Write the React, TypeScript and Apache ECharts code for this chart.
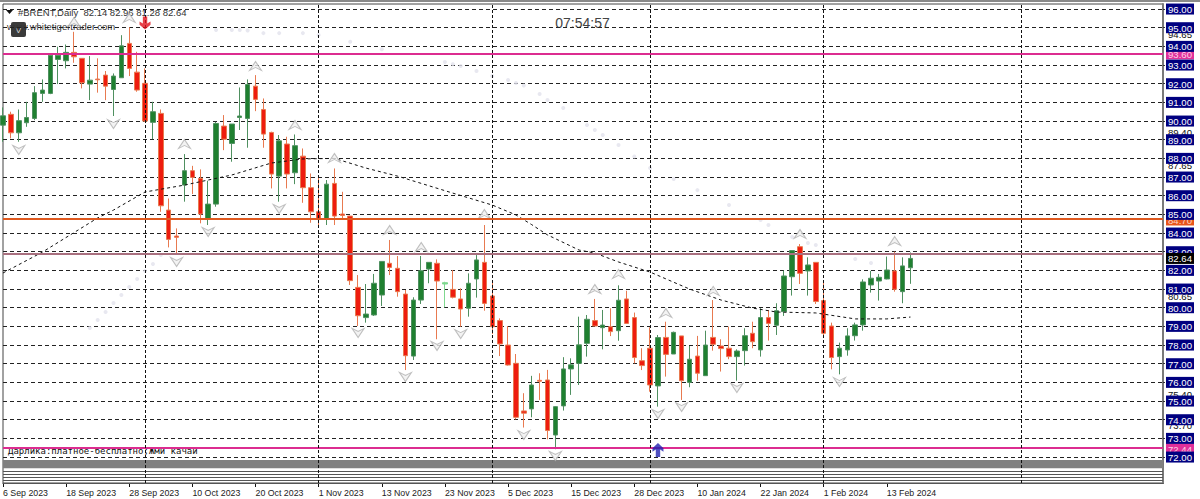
import React, { useEffect, useRef } from "react";
import * as echarts from "echarts";

const tickLabels = ["6 Sep 2023","18 Sep 2023","28 Sep 2023","10 Oct 2023","20 Oct 2023","1 Nov 2023","13 Nov 2023","23 Nov 2023","5 Dec 2023","15 Dec 2023","28 Dec 2023","10 Jan 2024","22 Jan 2024","1 Feb 2024","13 Feb 2024"];
const slotCount = 148;
const tickStep = 8;

const opens = [89.78,90.36,89.37,89.91,90.14,91.48,91.48,93.30,93.23,93.68,93.36,91.98,92.25,92.46,91.69,92.32,94.16,92.62,92.02,89.93,
90.41,85.23,83.84,86.57,87.34,86.93,84.78,85.55,89.73,88.80,90.19,90.14,91.87,90.62,89.39,87.05,88.77,87.23,88.12,86.43,
85.14,84.78,86.66,85.02,84.91,81.09,79.47,79.61,80.68,82.38,82.11,80.73,77.41,80.41,82.07,82.38,81.27,80.98,80.47,79.97,
81.54,82.43,80.63,79.31,78.00,77.02,74.47,74.58,76.11,76.13,73.18,74.74,76.72,77.02,78.09,79.31,78.93,78.98,78.77,80.47,
79.47,77.16,77.83,75.81,78.41,77.52,78.49,76.00,77.41,76.36,78.41,77.95,77.83,77.38,77.70,78.63,77.74,79.47,79.06,79.79,
81.66,83.27,81.97,82.43,80.38,79.02,77.38,77.74,78.50,79.08,81.22,81.43,81.54,81.97,80.86,82.14];
const closes = [90.28,89.37,90.02,90.19,91.52,91.66,93.53,93.53,93.68,93.44,92.05,92.19,92.21,91.87,92.41,94.03,92.82,91.66,90.00,90.50,
85.46,83.66,83.77,87.34,86.98,85.02,85.55,89.87,89.03,89.84,90.27,91.96,91.16,89.30,87.16,88.94,87.16,88.68,86.43,85.14,
84.78,86.62,84.91,84.94,81.45,79.57,79.66,81.31,82.48,82.16,80.86,77.43,80.41,81.98,82.43,81.43,81.34,80.56,79.93,81.31,
82.56,80.23,78.98,78.06,76.93,74.13,74.35,75.86,76.06,73.42,74.70,76.72,76.94,78.01,79.38,79.02,79.07,78.72,80.40,79.16,
77.33,76.90,75.86,78.40,77.50,78.68,76.09,77.24,76.49,78.00,78.04,77.81,77.38,77.68,78.50,78.18,79.47,79.16,79.84,81.70,
83.06,81.84,82.29,80.33,78.63,77.33,77.83,78.49,79.08,81.38,81.58,81.63,82.02,80.99,82.24,82.64];
const lows = [88.89,89.07,88.89,89.69,90.05,91.03,91.44,91.98,92.82,93.12,91.75,91.12,91.52,91.12,90.27,92.32,92.41,91.57,89.96,89.03,
85.14,83.23,82.91,85.68,86.09,84.52,84.43,85.41,88.44,87.82,89.52,88.57,90.53,88.57,86.39,85.68,86.39,86.62,85.62,84.55,
84.34,84.43,84.43,84.78,81.22,79.02,79.20,79.56,80.09,81.75,80.59,76.66,77.20,80.20,81.31,78.31,80.02,80.50,78.98,79.52,
80.54,79.84,78.59,77.41,76.90,74.02,73.58,74.13,75.06,72.95,72.42,74.49,75.33,75.86,77.38,79.02,77.77,78.48,78.23,79.16,
77.02,76.66,75.50,74.70,76.31,77.52,75.06,75.74,76.09,76.36,77.70,76.58,77.24,76.09,76.90,77.83,77.38,78.24,78.54,79.56,
80.65,81.27,80.65,80.20,78.41,76.70,76.43,77.43,78.24,78.77,80.81,80.38,81.52,80.86,80.24,81.28];
const highs = [90.73,90.50,90.62,91.03,91.87,92.23,93.62,93.98,94.10,94.78,93.36,93.48,93.36,92.68,92.55,94.60,95.02,93.71,92.82,91.03,
90.62,85.85,84.25,88.23,87.60,87.41,86.80,89.96,90.32,89.84,91.80,92.23,92.46,91.21,89.43,89.25,89.16,89.28,88.53,87.19,
87.02,86.84,87.46,86.21,84.93,81.75,81.27,81.81,82.48,83.63,82.77,80.95,80.56,82.77,82.43,82.59,81.39,82.02,81.04,81.84,
82.82,84.43,81.34,79.43,79.02,77.52,75.42,76.35,76.49,76.67,74.72,77.35,77.29,79.52,79.61,80.47,79.88,79.97,81.20,80.91,
79.74,77.83,78.95,78.54,79.25,78.72,78.49,77.95,78.49,78.77,80.41,78.31,78.99,77.77,78.90,79.25,79.97,79.88,80.24,81.99,
83.06,83.41,82.70,82.43,81.36,79.20,78.13,78.90,79.20,81.52,81.97,81.81,82.74,83.00,82.70,82.96];
const paleBar = 56;

const maBars = [0,5,12,14,18,23,29,34,38,42,46,50,57,62,65,67,69,73,75,78,82,87,91,95,98,103,108,112,115];
const maValues = [81.86,82.98,84.81,85.23,86.20,86.57,87.11,87.75,87.97,88.00,87.48,87.05,86.14,85.50,84.97,84.45,83.90,83.09,82.93,82.45,81.91,81.00,80.41,79.98,79.77,79.72,79.40,79.40,79.50];

const dotBars = [11,12,13,14,15,16,17,18,19,20,27,29,30,31,33,35,38,40,44,48,56,57,58,60,62,64,65,66,68,69,71,74,75,76,78,80,82,85,88,92,96,97,100,102,103,106,108,110];
const dotValues = [78.91,79.34,79.77,80.25,80.68,81.11,81.54,81.97,82.34,82.82,94.88,94.88,94.88,94.85,94.71,94.71,94.71,94.61,94.25,93.85,93.16,93.05,92.95,92.68,92.41,92.20,92.04,91.90,91.45,91.13,90.70,89.79,89.52,89.25,88.72,88.10,87.48,86.90,86.30,85.50,84.70,84.43,83.79,83.47,83.36,82.93,82.61,82.40];

const upFractalBars = [9,16,23,32,37,42,49,53,61,75,78,84,90,101,113];
const upFractalValues = [95.30,95.52,88.77,92.95,89.79,88.02,84.16,83.25,85.02,81.00,81.81,79.72,80.90,83.95,83.57];
const downFractalBars = [2,14,22,26,35,45,51,55,58,66,70,83,86,93,106];
const downFractalValues = [88.45,89.84,82.45,84.06,85.29,78.65,76.29,77.95,78.59,73.18,72.06,74.31,74.68,75.70,76.02];

const sellArrow = [18, 95.25];
const buyArrow = [83, 72.38];

const gridLevels = [72,73,74,75,76,77,78,79,80,81,82,83,84,85,86,87,88,89,90,91,92,93,94,95,96];
const plainLabels = [94.65,89.40,87.65,80.65,75.40,73.70];
const magentaLabels = [93.60,72.44];
const orangeLabels = [84.70];
const closeLabels = [82.64];

const magentaLevels = [93.60,72.52];
const orangeLevel = 84.75;
const mauveLevel = 82.91;
const stripeLevels = [71.25,71.09,70.93,70.77,70.61];
const bandRange = [71.40,71.84];
const separatorBars = [18,40,62,82,104,129];

const titleText = "#BRENT,Daily  82.14 82.96 81.28 82.64";
const siteText = "www.whitetigertrader.com";
const clockText = "07:54:57";
const noteText = "Дарлика:платное-бесплатно;Жми качай";

const categories = Array.from({ length: slotCount }, (_, i) => (i % tickStep === 0 && tickLabels[i / tickStep]) || String(i));

const upPath = "path://M6 0L12 9L6 6L0 9Z";
const downPath = "path://M0 0L6 3L12 0L6 9Z";
const sellPath = "path://M3 0H7V6.5L10 4.5V7.5L5 12L0 7.5V4.5L3 6.5Z";
const buyPath = "path://M5 0L10 4.5V7.5L7 5.5V12H3V5.5L0 7.5V4.5Z";

const font = "Liberation Sans";
const pair = (xs: number[], ys: number[]) => xs.map((x, i) => [x, ys[i]]);
const GREEN = "#1f8030";
const RED = "#ee1c0e";

export default function App() {
  const ref = useRef<HTMLDivElement>(null);
  useEffect(() => {
    document.body.style.margin = "0";
    document.body.style.background = "#fff";
    const chart = echarts.init(ref.current!, undefined, { renderer: "svg" });
    const candleData = opens.map((o, i) => {
      const value = [o, closes[i], lows[i], highs[i]];
      return i === paleBar
        ? { value, itemStyle: { color: "#7fd88f", borderColor: "#7fd88f", color0: "#7fd88f", borderColor0: "#7fd88f" } }
        : value;
    });
    const labelValues = [...plainLabels, ...magentaLabels, ...orangeLabels, ...gridLevels, ...closeLabels];
    const box = { padding: [1, 2, 0, 2], fontSize: 9.6, fontFamily: font, lineHeight: 10 };
    chart.setOption({
      animation: false,
      backgroundColor: "#fff",
      grid: { left: 3, right: 37, top: 4, bottom: 16, show: true, borderColor: "#444", borderWidth: 1, containLabel: false },
      xAxis: {
        type: "category",
        data: categories,
        boundaryGap: false,
        axisLine: { show: true, lineStyle: { color: "#111", width: 1 } },
        axisTick: { show: true, length: 4, lineStyle: { color: "#111" }, interval: (i: number) => i % tickStep === 0 && i / tickStep < tickLabels.length },
        axisLabel: {
          show: true,
          interval: (i: number) => i % tickStep === 0 && i / tickStep < tickLabels.length,
          align: "left",
          margin: 5,
          fontFamily: font,
          fontSize: 8.8,
          color: "#222",
          hideOverlap: false,
          showMinLabel: true,
        },
        splitLine: { show: false },
      },
      yAxis: {
        type: "value",
        position: "right",
        min: 70.61,
        max: 96.27,
        scale: true,
        axisLine: { show: true, onZero: false, lineStyle: { color: "#7a7a7a", width: 2 } },
        axisTick: { show: true, length: 2, lineStyle: { color: "#333" }, customValues: gridLevels },
        splitLine: { show: true, lineStyle: { color: "#222", width: 1, type: [4, 3] } },
        axisLabel: {
          show: true,
          customValues: labelValues,
          margin: 3,
          formatter: (v: number) => {
            const t = v.toFixed(2);
            if (plainLabels.includes(v)) return `{p|${t}}`;
            if (magentaLabels.includes(v)) return `{m|${t}}`;
            if (orangeLabels.includes(v)) return `{o|${t}}`;
            if (closeLabels.includes(v)) return `{k|${t}}`;
            return `{n|${t}}`;
          },
          rich: {
            n: { ...box, color: "#fff", backgroundColor: "#000080" },
            p: { ...box, color: "#111", backgroundColor: "#fff" },
            m: { ...box, color: "#ffd0e8", backgroundColor: "#e0309a" },
            o: { ...box, color: "#ffd8c8", backgroundColor: "#e8541a" },
            k: { ...box, color: "#fff", backgroundColor: "#000" },
          },
        },
      },
      series: [
        {
          type: "candlestick",
          data: candleData,
          barWidth: 5,
          clip: true,
          itemStyle: { color: GREEN, color0: RED, borderColor: "#4f9060", borderColor0: "#e87a50", borderWidth: 1 },
          markArea: {
            silent: true,
            itemStyle: { color: "#808080" },
            data: [[{ yAxis: bandRange[0] }, { yAxis: bandRange[1] }]],
          },
          markLine: {
            silent: true,
            symbol: "none",
            label: { show: false },
            animation: false,
            data: [
              ...magentaLevels.map((v) => ({ yAxis: v, lineStyle: { color: "#dc2c90", width: 2, type: "solid" } })),
              { yAxis: orangeLevel, lineStyle: { color: "#e05a20", width: 2, type: "solid" } },
              { yAxis: mauveLevel, lineStyle: { color: "#a9707f", width: 2, type: "solid" } },
              ...stripeLevels.map((v) => ({ yAxis: v, lineStyle: { color: "#555", width: 1, type: "solid" } })),
              ...separatorBars.map((b) => ({ xAxis: b, lineStyle: { color: "#111", width: 1, type: [3, 2] } })),
            ],
          },
        },
        {
          type: "line",
          data: pair(maBars, maValues),
          showSymbol: false,
          symbol: "none",
          lineStyle: { color: "#111", width: 1, type: [3, 3] },
          z: 3,
        },
        {
          type: "scatter",
          data: pair(dotBars, dotValues),
          symbol: "circle",
          symbolSize: 4,
          itemStyle: { color: "#e2e2ec" },
          z: 3,
        },
        {
          type: "scatter",
          data: pair(upFractalBars, upFractalValues),
          symbol: upPath,
          symbolSize: [12, 9],
          itemStyle: { color: "#f0f0f0", borderColor: "#b0b0b0", borderWidth: 1 },
          z: 4,
        },
        {
          type: "scatter",
          data: pair(downFractalBars, downFractalValues),
          symbol: downPath,
          symbolSize: [12, 9],
          itemStyle: { color: "#f0f0f0", borderColor: "#b0b0b0", borderWidth: 1 },
          z: 4,
        },
        { type: "scatter", data: [sellArrow], symbol: sellPath, symbolSize: [11, 13], itemStyle: { color: "#e0101a" }, z: 5 },
        { type: "scatter", data: [buyArrow], symbol: buyPath, symbolSize: [11, 14], itemStyle: { color: "#2020b0" }, z: 5 },
      ],
      graphic: [
        { type: "rect", shape: { x: 0, y: 0, width: 1200, height: 2 }, style: { fill: "#8a8a8a" } },
        { type: "polygon", shape: { points: [[6, 10], [13, 10], [9.5, 14]] }, style: { fill: "#111" } },
        { type: "text", x: 18, y: 12, style: { text: titleText, font: `9.5px "${font}"`, fill: "#333", textVerticalAlign: "middle" } },
        { type: "rect", shape: { x: 11, y: 22, width: 15, height: 15, r: 2 }, style: { fill: "#3a3a3a" } },
        { type: "text", x: 18.5, y: 30, style: { text: "V", font: `8px "${font}"`, fill: "#ddd", textAlign: "center", textVerticalAlign: "middle" } },
        { type: "text", x: 7, y: 26, style: { text: siteText, font: `9.5px "${font}"`, fill: "#333", textVerticalAlign: "middle" } },
        { type: "text", x: 582.5, y: 23, style: { text: clockText, font: `14px "${font}"`, fill: "#444", textAlign: "center", textVerticalAlign: "middle" } },
        { type: "text", x: 8, y: 451, style: { text: noteText, font: `9px "DejaVu Sans Mono"`, fill: "#111", textVerticalAlign: "middle" } },
      ],
    });
    return () => chart.dispose();
  }, []);
  return <div ref={ref} style={{ position: "absolute", left: 0, top: 0, width: 1200, height: 499 }} />;
}
